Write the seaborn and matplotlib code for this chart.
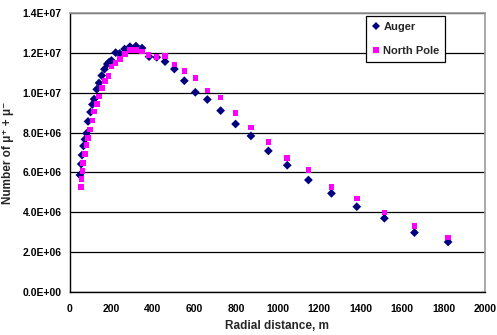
import matplotlib
matplotlib.use("Agg")
import matplotlib.pyplot as plt
import numpy as np
import pandas as pd
import seaborn as sns

# values
auger_r = [48, 54, 58, 65, 72, 80, 87, 99, 108, 116, 129, 140, 153, 166, 180,
           189, 200, 220, 239, 263, 289, 318, 347, 381, 418, 458, 503, 551, 604,
           662, 726, 798, 872, 956, 1047, 1149, 1260, 1382, 1515, 1660, 1822]
auger_n = [5.87e6, 6.42e6, 6.87e6, 7.33e6, 7.66e6, 7.96e6, 8.56e6, 9.03e6,
           9.41e6, 9.68e6, 1.017e7, 1.049e7, 1.086e7, 1.118e7, 1.144e7,
           1.154e7, 1.162e7, 1.201e7, 1.197e7, 1.219e7, 1.231e7, 1.234e7,
           1.224e7, 1.181e7, 1.178e7, 1.156e7, 1.119e7, 1.060e7, 1.002e7,
           9.66e6, 9.10e6, 8.43e6, 7.83e6, 7.08e6, 6.36e6, 5.62e6, 4.95e6,
           4.28e6, 3.70e6, 2.98e6, 2.51e6]

pole_r = [52, 56, 61, 64, 72, 80, 88, 96, 108, 117, 129, 140, 153, 169, 185,
          201, 220, 241, 265, 289, 318, 348, 379, 418, 459, 503, 551, 604, 662,
          726, 798, 872, 956, 1047, 1149, 1260, 1382, 1515, 1660, 1822]
pole_n = [5.28e6, 5.67e6, 6.07e6, 6.46e6, 6.92e6, 7.38e6, 7.74e6, 8.16e6,
          8.60e6, 9.05e6, 9.42e6, 9.80e6, 1.025e7, 1.059e7, 1.085e7, 1.131e7,
          1.148e7, 1.169e7, 1.194e7, 1.214e7, 1.214e7, 1.206e7, 1.188e7,
          1.178e7, 1.184e7, 1.142e7, 1.109e7, 1.075e7, 1.010e7, 9.77e6,
          8.98e6, 8.25e6, 7.53e6, 6.72e6, 6.13e6, 5.28e6, 4.70e6, 3.98e6,
          3.31e6, 2.73e6]

series_names = ["Auger", "North Pole"]
x_ticks = list(range(0, 2001, 200))
y_ticks = [0, 2e6, 4e6, 6e6, 8e6, 1e7, 1.2e7, 1.4e7]

df = pd.concat([
    pd.DataFrame({"r": auger_r, "n": auger_n, "site": series_names[0]}),
    pd.DataFrame({"r": pole_r, "n": pole_n, "site": series_names[1]}),
], ignore_index=True)

sns.set_style("white")
plt.rcParams["font.family"] = ["Liberation Sans", "DejaVu Sans"]
plt.rcParams["font.weight"] = "bold"

fig = plt.figure(figsize=(4.97, 3.35), dpi=100)
ax = fig.add_axes([0.1408, 0.1284, 0.8351, 0.8328])

sns.scatterplot(data=df, x="r", y="n", hue="site", style="site",
                palette={"Auger": "#000080", "North Pole": "#FF00FF"},
                markers={"Auger": "D", "North Pole": "s"},
                size="site", sizes={"Auger": 20, "North Pole": 16},
                linewidth=0, ax=ax, zorder=3)

ax.set_xlim(0, 2000)
ax.set_ylim(0, 1.4e7)
ax.set_xticks(x_ticks)
ax.set_yticks(y_ticks)
ax.set_yticklabels([f"{v:.1E}" for v in y_ticks])
ax.tick_params(axis="both", labelsize=7.5, length=3, width=0.8,
               direction="out", colors="black", pad=3)
ax.tick_params(axis="x", pad=6)
for lab in ax.get_xticklabels() + ax.get_yticklabels():
    lab.set_fontweight("bold")

ax.grid(axis="y", color="black", linewidth=0.9)
ax.grid(axis="x", visible=False)
ax.set_axisbelow(True)
for side in ["left", "bottom"]:
    ax.spines[side].set_color("black")
    ax.spines[side].set_linewidth(1.0)
for side in ["top", "right"]:
    ax.spines[side].set_color("#9a9a9a")
    ax.spines[side].set_linewidth(1.2)

ax.set_xlabel("Radial distance, m", fontsize=8.5, fontweight="bold", labelpad=4)
ax.set_ylabel("Number of μ⁺ + μ⁻", fontsize=8.5, fontweight="bold", labelpad=6)

handles, labels = ax.get_legend_handles_labels()
leg = ax.legend(handles, labels, loc="upper right",
                bbox_to_anchor=(0.904, 0.989), borderaxespad=0,
                fancybox=False, framealpha=1, edgecolor="black",
                labelspacing=1.3, handletextpad=0.2, handlelength=0.9,
                borderpad=0.5, prop={"weight": "bold", "size": 8})
leg.get_frame().set_linewidth(0.9)

fig.savefig("out.png", dpi=100)
